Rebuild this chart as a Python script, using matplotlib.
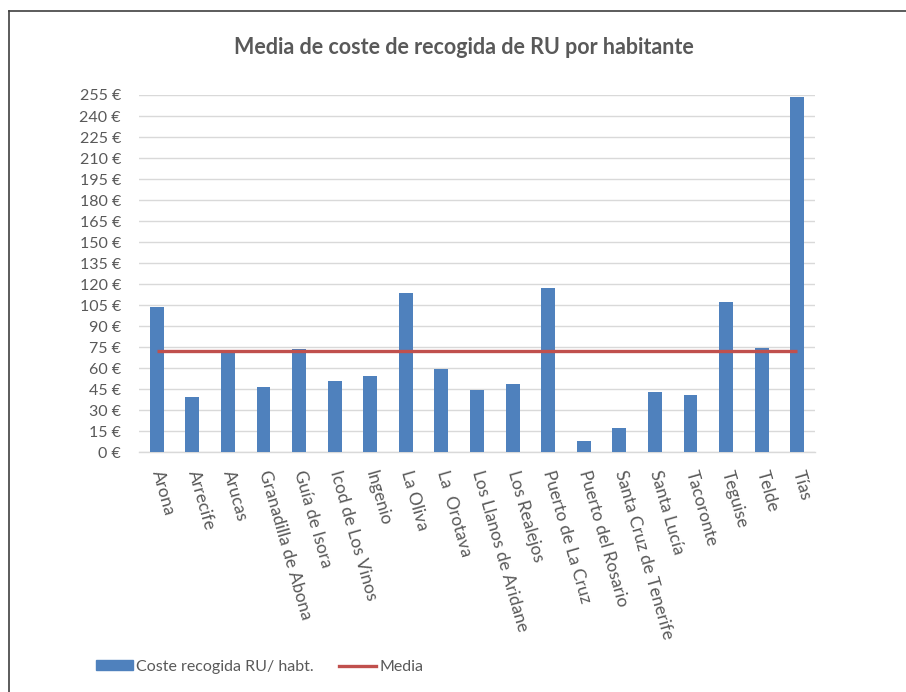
import matplotlib
matplotlib.use("Agg")
import matplotlib.pyplot as plt
import numpy as np
from matplotlib.lines import Line2D

plt.rcParams['font.family'] = ['Lato', 'DejaVu Sans']

# data
municipios = ["Arona", "Arrecife", "Arucas", "Granadilla de Abona", "Guía de Isora",
              "Icod de Los Vinos", "Ingenio", "La Oliva", "La  Orotava",
              "Los Llanos de Aridane", "Los Realejos", "Puerto de La Cruz",
              "Puerto del Rosario", "Santa Cruz de Tenerife", "Santa Lucía",
              "Tacoronte", "Teguise", "Telde", "Tías"]
coste = [103.7, 39.7, 71.1, 46.9, 74.0, 50.7, 54.2, 113.9, 59.5,
         44.2, 48.5, 117.5, 8.1, 17.1, 43.1, 40.7, 107.0, 74.2, 253.3]
media = 72.1
y_ticks = list(range(0, 256, 15))

text_col = "#595959"
bar_col = "#4F81BD"
line_col = "#C0504D"
fs = 11.5

fig = plt.figure(figsize=(9.06, 6.92), dpi=100)
ax = fig.add_axes([139/906, 1-452.3/692, (815-139)/906, (452.3-95)/692])

x = np.arange(len(municipios))
ax.bar(x, coste, width=0.39, color=bar_col, zorder=3, label="Coste recogida RU/ habt.")
ax.plot([x[0], x[-1]], [media, media], color=line_col, lw=2.4, zorder=4,
        solid_capstyle='butt', label="Media")

ax.set_xlim(-0.5, len(municipios) - 0.5)
ax.set_ylim(0, 255)
ax.set_yticks(y_ticks)
ax.set_yticklabels([f"{v} €" for v in y_ticks], color=text_col, fontsize=fs)
ax.yaxis.grid(True, color="#D9D9D9", lw=1, zorder=0)
ax.tick_params(axis='y', length=0, pad=13)
ax.tick_params(axis='x', length=0, pad=0)
for s in ["top", "right", "left"]:
    ax.spines[s].set_visible(False)
ax.spines["bottom"].set_color("#D9D9D9")
ax.spines["bottom"].set_linewidth(1)

ax.set_xticks(x)
ax.set_xticklabels([])
for xi, name in zip(x, municipios):
    ax.annotate(name, xy=(xi, 0), xycoords=('data', 'axes fraction'),
                xytext=(0, -13), textcoords='offset points',
                rotation=-74, rotation_mode='anchor', ha='left', va='center',
                color=text_col, fontsize=12.5)

fig.text(464/906, 1-47/692, "Media de coste de recogida de RU por habitante",
         ha='center', va='center', fontsize=15.5, fontweight='bold', color=text_col)

handles = [plt.Rectangle((0, 0), 1, 1, color=bar_col),
           Line2D([0], [0], color=line_col, lw=2.4)]
leg = fig.legend(handles, ["Coste recogida RU/ habt.", "Media"],
                 loc='center left', bbox_to_anchor=(96/906, 1-667/692),
                 ncol=2, frameon=False, fontsize=fs, handlelength=2.3,
                 handleheight=0.6, handletextpad=0.2, columnspacing=1.6,
                 borderpad=0, borderaxespad=0)
for t in leg.get_texts():
    t.set_color(text_col)

# outer frame of the chart (only top and left edges show)
fig.add_artist(Line2D([8.5/906, 8.5/906], [0, 1-10.5/692], color="#404040", lw=1.2))
fig.add_artist(Line2D([8.5/906, 1], [1-10.5/692, 1-10.5/692], color="#404040", lw=1.2))

fig.savefig("out.png", dpi=100)
